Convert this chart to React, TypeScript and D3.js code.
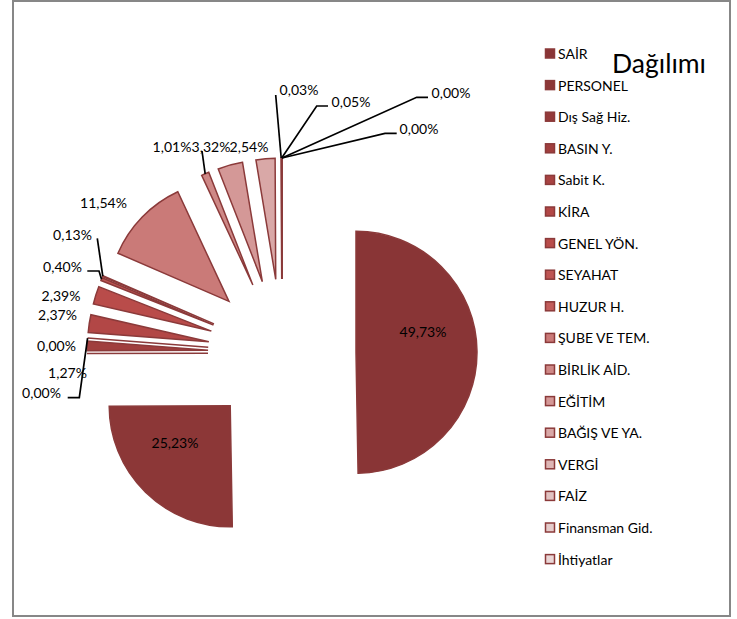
import React from "react";
import * as d3 from "d3";

// ---- data ----
const categories = [
  "SAİR", "PERSONEL", "Dış Sağ Hiz.", "BASIN Y.", "Sabit K.", "KİRA", "GENEL YÖN.",
  "SEYAHAT", "HUZUR H.", "ŞUBE VE TEM.", "BİRLİK AİD.", "EĞİTİM", "BAĞIŞ VE YA.",
  "VERGİ", "FAİZ", "Finansman Gid.", "İhtiyatlar",
];
const shares = [
  49.73, 25.23, 0.0, 1.27, 0.0, 2.37, 2.39, 0.4, 0.13, 11.54, 1.01, 3.32, 2.54,
  0.03, 0.05, 0.0, 0.0,
];
const titleText = "Dağılımı";

// ---- styles / layout ----
const palette = [
  "#893536", "#8c3737", "#943a3a", "#a03f3e", "#a84342", "#b24746", "#b94c4a",
  "#be5553", "#c25d5b", "#ca7a78", "#ce8886", "#d49897", "#d9a8a7", "#ddb6b5",
  "#e1c2c1", "#e5cccb", "#e9d6d6",
];
const strokeColor = "#8b3a3a";
const W = 737, H = 619;
const cx = 282, cy = 353, R = 121, EXPLODE = 74;
const FONT = "Lato, 'Open Sans', sans-serif";

// label placement relative to pie centre; leader elbows relative to pie centre
type LabelLayout = { dx: number; dy: number; leader?: [number, number][] };
const labelLayout: LabelLayout[] = [
  { dx: 141, dy: -21 },
  { dx: -107, dy: 90 },
  { dx: -225.5, dy: -7 },
  { dx: -214.5, dy: 20 },
  { dx: -240.5, dy: 40, leader: [[-202.7, 44.7], [-214.3, 44.7]] },
  { dx: -224.5, dy: -38 },
  { dx: -221, dy: -57 },
  { dx: -219.5, dy: -86, leader: [[-183, -82], [-194.7, -82]] },
  { dx: -209.5, dy: -118, leader: [[-184.7, -114.7]] },
  { dx: -178.5, dy: -150 },
  { dx: -110, dy: -206, leader: [[-80, -202]] },
  { dx: -71, dy: -206 },
  { dx: -33, dy: -206 },
  { dx: 17, dy: -263, leader: [[-6.3, -258]] },
  { dx: 69, dy: -251, leader: [[34.7, -247], [46, -247]] },
  { dx: 169, dy: -260, leader: [[134.7, -255.7], [146, -255.7]] },
  { dx: 137, dy: -224, leader: [[103, -219.7], [114.7, -219.7]] },
];

const legendX = 545, legendY0 = 54, legendStep = 31.6, legendBox = 10;

const fmt = (v: number) => d3.format(".2f")(v).replace(".", ",") + "%";

export default function App() {
  const pie = d3.pie<number>().sort(null).value((d) => d).startAngle(0).endAngle(2 * Math.PI);
  const arcs = pie(shares);
  const arcGen = d3.arc<d3.PieArcDatum<number>>().innerRadius(0).outerRadius(R);

  const slices = arcs.map((a, i) => {
    const mid = (a.startAngle + a.endAngle) / 2;
    const ox = EXPLODE * Math.sin(mid);
    const oy = -EXPLODE * Math.cos(mid);
    const tipX = cx + (EXPLODE + R) * Math.sin(mid);
    const tipY = cy - (EXPLODE + R) * Math.cos(mid);
    return { a, i, ox, oy, tipX, tipY };
  });

  return (
    <svg
      width={W}
      height={H}
      style={{ position: "absolute", left: 0, top: 0, background: "#fff" }}
      fontFamily={FONT}
    >
      <rect x={13} y={1} width={717} height={615} fill="#fff" stroke="#878787" strokeWidth={2} />
      {/* slices */}
      {slices.map(({ a, i, ox, oy }) => (
        <path
          key={"s" + i}
          d={arcGen(a) || ""}
          transform={`translate(${cx + ox},${cy + oy})`}
          fill={palette[i]}
          stroke={strokeColor}
          strokeWidth={1.5}
          strokeLinejoin="miter"
        />
      ))}
      {/* leader lines */}
      {slices.map(({ i, tipX, tipY }) => {
        const L = labelLayout[i];
        if (!L.leader) return null;
        const pts: [number, number][] = [[tipX, tipY], ...L.leader.map(([x, y]) => [cx + x, cy + y] as [number, number])];
        return (
          <path
            key={"l" + i}
            d={d3.line()(pts) || ""}
            fill="none"
            stroke="#000"
            strokeWidth={1.7}
          />
        );
      })}
      {/* data labels */}
      {slices.map(({ i }) => {
        const L = labelLayout[i];
        return (
          <text
            key={"t" + i}
            x={cx + L.dx}
            y={cy + L.dy}
            dy="0.36em"
            textAnchor="middle"
            fontSize={14}
            fill="#000"
          >
            {fmt(shares[i])}
          </text>
        );
      })}
      {/* title */}
      <text x={612} y={73} fontSize={26.5} fill="#000">{titleText}</text>
      {/* legend */}
      {categories.map((c, i) => {
        const y = legendY0 + i * legendStep;
        return (
          <g key={"g" + i}>
            <rect
              x={legendX + 0.5}
              y={y - legendBox / 2}
              width={legendBox - 1}
              height={legendBox - 1}
              fill={palette[i]}
              stroke={strokeColor}
              strokeWidth={1.5}
            />
            <text x={558} y={y} dy="0.36em" fontSize={14} fill="#000">{c}</text>
          </g>
        );
      })}
    </svg>
  );
}
